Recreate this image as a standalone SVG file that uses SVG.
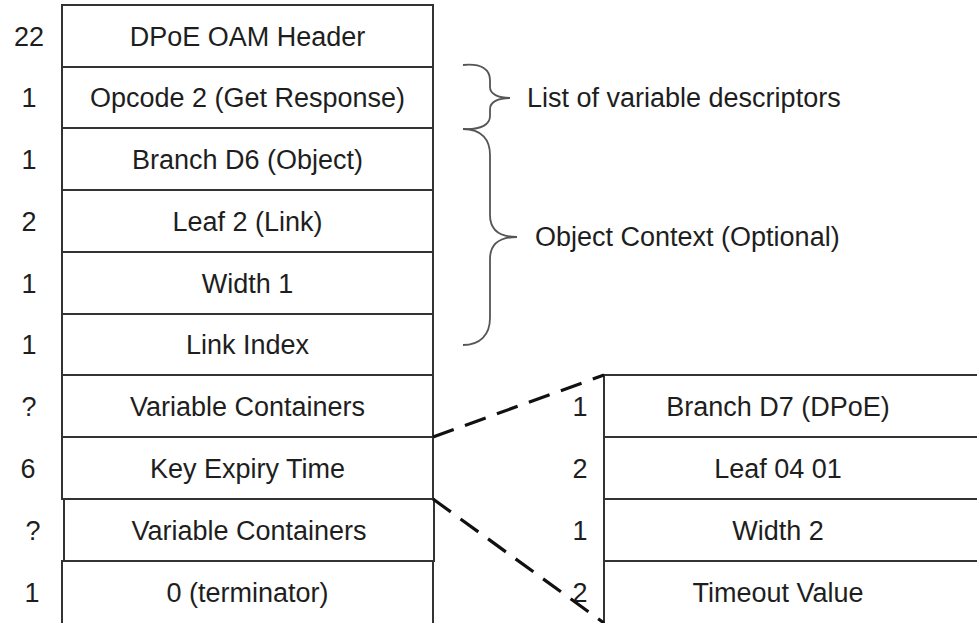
<svg xmlns="http://www.w3.org/2000/svg" width="977" height="623" viewBox="0 0 977 623">
<style>
.cell{fill:#fff;stroke:#333;stroke-width:2}
.t{font-family:"Liberation Sans",Arial,sans-serif;font-size:27px;fill:#1e1e1e;text-anchor:middle}
.l{font-family:"Liberation Sans",Arial,sans-serif;font-size:27px;fill:#1e1e1e}
.brace{fill:none;stroke:#555;stroke-width:1.8}
.dash{fill:none;stroke:#111;stroke-width:3.2;stroke-dasharray:22 12}
</style>
<rect width="977" height="623" fill="#fff"/>
<g id="row-header"><rect class="cell" x="62" y="5" width="371" height="62"/><text class="t" x="29" y="46">22</text><text class="t" x="247.5" y="46">DPoE OAM Header</text></g>
<g id="row-opcode"><rect class="cell" x="62" y="67" width="371" height="61"/><text class="t" x="29" y="107">1</text><text class="t" x="247.5" y="107">Opcode 2 (Get Response)</text></g>
<g id="row-branch"><rect class="cell" x="62" y="128" width="371" height="62"/><text class="t" x="29" y="169">1</text><text class="t" x="247.5" y="169">Branch D6 (Object)</text></g>
<g id="row-leaf"><rect class="cell" x="62" y="190" width="371" height="62"/><text class="t" x="29" y="231">2</text><text class="t" x="247.5" y="231">Leaf 2 (Link)</text></g>
<g id="row-width"><rect class="cell" x="62" y="252" width="371" height="62"/><text class="t" x="29" y="293">1</text><text class="t" x="247.5" y="293">Width 1</text></g>
<g id="row-linkindex"><rect class="cell" x="62" y="314" width="371" height="61"/><text class="t" x="29" y="354">1</text><text class="t" x="247.5" y="354">Link Index</text></g>
<g id="row-varcont1"><rect class="cell" x="62" y="375" width="371" height="62"/><text class="t" x="29" y="416">?</text><text class="t" x="247.5" y="416">Variable Containers</text></g>
<g id="row-keyexpiry"><rect class="cell" x="62" y="437" width="371" height="62"/><text class="t" x="28" y="478">6</text><text class="t" x="247.5" y="478">Key Expiry Time</text></g>
<g id="row-varcont2"><rect class="cell" x="64" y="499" width="370" height="62"/><text class="t" x="33" y="540">?</text><text class="t" x="249" y="540">Variable Containers</text></g>
<g id="row-terminator"><rect class="cell" x="62" y="561" width="371" height="70"/><text class="t" x="32" y="602">1</text><text class="t" x="247.5" y="602">0 (terminator)</text></g>

<g id="r-branch"><rect class="cell" x="604" y="375" width="390" height="62"/><text class="t" x="580" y="416">1</text><text class="t" x="778" y="416">Branch D7 (DPoE)</text></g>
<g id="r-leaf"><rect class="cell" x="604" y="437" width="390" height="62"/><text class="t" x="580" y="478">2</text><text class="t" x="778" y="478">Leaf 04 01</text></g>
<g id="r-width"><rect class="cell" x="604" y="499" width="390" height="62"/><text class="t" x="580" y="540">1</text><text class="t" x="778" y="540">Width 2</text></g>
<g id="r-timeout"><rect class="cell" x="604" y="561" width="390" height="70"/><text class="t" x="580" y="602">2</text><text class="t" x="778" y="602">Timeout Value</text></g>

<g id="brace-descriptors">
<path class="brace" d="M463,65 C482,63 490,70 490,80 L490,87 C490,94 498,98 510,98 C498,98 490,102 490,109 L490,116 C490,124 482,130 463,129"/>
<text class="l" x="527" y="107">List of variable descriptors</text>
</g>
<g id="brace-context">
<path class="brace" d="M463,129 C482,129 490,140 490,155 L490,215 C490,230 500,237 517,237 C500,237 490,244 490,259 L490,318 C490,335 480,345 463,345"/>
<text class="l" x="535" y="246">Object Context (Optional)</text>
</g>
<g id="connectors">
<line class="dash" x1="433" y1="437" x2="604" y2="375"/>
<line class="dash" x1="433" y1="499" x2="604" y2="623"/>
</g>
</svg>
